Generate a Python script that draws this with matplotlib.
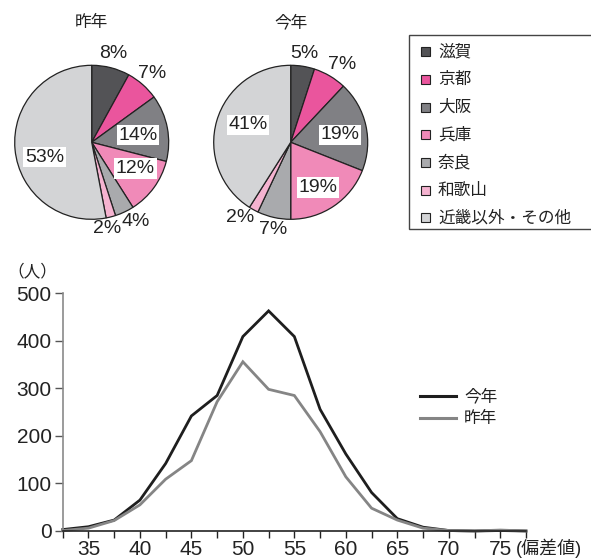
import numpy as np
import matplotlib
matplotlib.use("Agg")
import matplotlib.pyplot as plt
from matplotlib.patches import Rectangle
from matplotlib.lines import Line2D

plt.rcParams['font.family'] = ['Liberation Sans', 'Noto Sans CJK JP', 'DejaVu Sans']

# ---- data ----
regions = ['滋賀', '京都', '大阪', '兵庫', '奈良', '和歌山', '近畿以外・その他']
share_last = [8, 7, 14, 12, 4, 2, 53]
share_this = [5, 7, 19, 19, 7, 2, 41]
region_colors = ['#535356', '#ea559d', '#808084', '#f08ab8', '#a9aaad', '#f5b3d0', '#d3d4d6']

score = [32.5, 35, 37.5, 40, 42.5, 45, 47.5, 50, 52.5, 55, 57.5, 60,
         62.5, 65, 67.5, 70, 72.5, 75, 77.5]
count_this = [3, 9, 23, 65, 142, 242, 285, 409, 463, 409, 256, 162,
              81, 26, 8, 1, 0, 1, 0]
count_last = [1, 6, 22, 55, 109, 148, 272, 356, 298, 285, 209, 114,
              48, 23, 6, 1, 0, 2, 0]
ytick_values = [0, 100, 200, 300, 400, 500]

W, H = 591, 559
fig = plt.figure(figsize=(W / 100, H / 100), dpi=100)


def px_axes(left, top, width, height):
    return fig.add_axes([left / W, 1 - (top + height) / H, width / W, height / H])


def draw_pie(cx, cy, r, values, title, label_r, label_nudge, boxed):
    lim = 1.03
    ax = px_axes(cx - r * lim, cy - r * lim, 2 * r * lim, 2 * r * lim)
    wedges, _ = ax.pie(values, colors=region_colors, startangle=90, counterclock=False,
                       wedgeprops=dict(edgecolor='#222222', linewidth=0.9))
    ax.set_xlim(-lim, lim)
    ax.set_ylim(-lim, lim)
    ax.set_aspect('equal')
    ax.axis('off')
    for w, v, rr, dn, bx in zip(wedges, values, label_r, label_nudge, boxed):
        ang = np.deg2rad((w.theta1 + w.theta2) / 2 + dn)
        kw = {}
        if bx:
            kw['bbox'] = dict(facecolor='white', edgecolor='none', pad=1.2)
        ax.text(rr * np.cos(ang), rr * np.sin(ang), f'{v}%', ha='center', va='center',
                fontsize=14, color='#222222', **kw)
    fig.text(cx / W, 1 - 22 / H, title, ha='center', va='center', fontsize=12, color='#222222')


draw_pie(91.7, 142.3, 77, share_last, '昨年',
         [1.19, 1.19, 0.61, 0.66, 1.18, 1.14, 0.64],
         [1, 0, -2, 5, 4, -4, 12],
         [False, False, True, True, False, False, True])
draw_pie(290.7, 142.3, 77, share_this, '今年',
         [1.17, 1.21, 0.65, 0.69, 1.16, 1.18, 0.60],
         [0, -3, -4, -3, 1, -5, -6],
         [False, False, True, True, False, False, True])

# region legend
fig.patches.append(Rectangle((409 / W, 1 - 229 / H), (W + 5 - 409) / W, (229 - 35) / H,
                             transform=fig.transFigure, facecolor='white',
                             edgecolor='#444444', linewidth=1.0))
for i, (name, col) in enumerate(zip(regions, region_colors)):
    y = 52 + i * 27.6
    fig.patches.append(Rectangle((421 / W, 1 - (y + 4.5) / H), 9 / W, 9 / H,
                                 transform=fig.transFigure, facecolor=col,
                                 edgecolor='#222222', linewidth=0.8))
    fig.text(438 / W, 1 - y / H, name, ha='left', va='center', fontsize=12, color='#222222')

# ---- distribution line chart ----
ax = px_axes(62.7, 293.3, 526 - 62.7, 531 - 293.3)
ax.plot(score, count_this, color='#1e1e1e', linewidth=2.0, solid_joinstyle='miter',
        label='今年', clip_on=False)
ax.plot(score, count_last, color='#858585', linewidth=2.0, solid_joinstyle='miter',
        label='昨年', clip_on=False)
ax.set_xlim(32.5, 77.5)
ax.set_ylim(0, 500)
ax.spines['top'].set_visible(False)
ax.spines['right'].set_visible(False)
ax.spines['left'].set_color('#8a8a8a')
ax.spines['left'].set_linewidth(1.2)
ax.spines['bottom'].set_color('#222222')
ax.spines['bottom'].set_linewidth(1.2)
xt = np.arange(32.5, 77.6, 2.5)
ax.set_xticks(xt)
ax.set_xticklabels(['' if (t % 5) else str(int(t)) for t in xt])
ax.set_yticks(ytick_values)
ax.set_yticklabels([str(v) for v in ytick_values])
ax.tick_params(axis='x', direction='out', length=5, width=1.0, color='#222222',
               labelsize=15, labelcolor='#222222', pad=1.5)
ax.tick_params(axis='y', direction='out', length=6, width=1.0, color='#555555',
               labelsize=15, labelcolor='#222222', pad=2)
ax.patch.set_alpha(0)

fig.text(32 / W, 1 - 271 / H, '（人）', ha='center', va='center', fontsize=12, color='#222222')
fig.text(516 / W, 1 - 548 / H, '(偏差値)', ha='left', va='center', fontsize=13,
         color='#222222')

# series legend
for y, col, name in [(396, '#1e1e1e', '今年'), (418, '#858585', '昨年')]:
    fig.lines.append(Line2D([420 / W, 456 / W], [1 - y / H, 1 - y / H],
                            transform=fig.transFigure, color=col, linewidth=2.2))
    fig.text(464 / W, 1 - y / H, name, ha='left', va='center', fontsize=12, color='#222222')

fig.savefig('out.png', dpi=100)
